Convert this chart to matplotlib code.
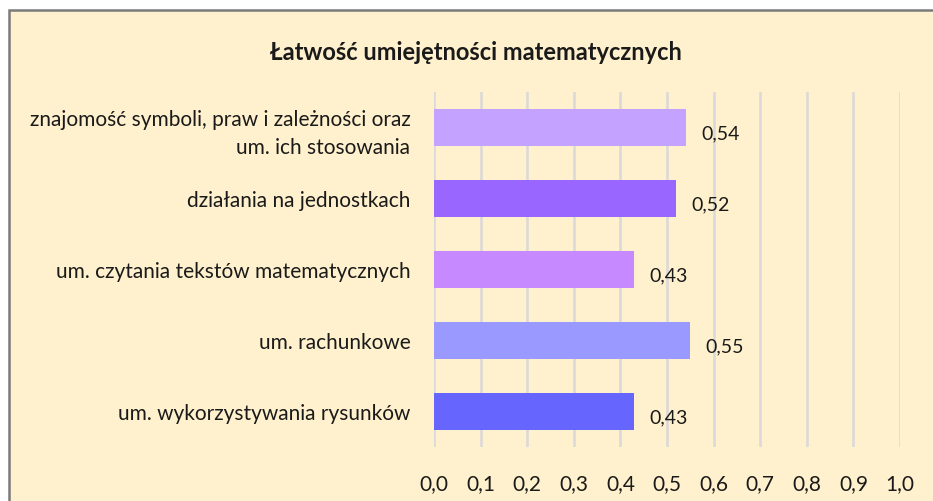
import matplotlib
matplotlib.use("Agg")
import matplotlib.pyplot as plt
from matplotlib.patches import Rectangle

categories = [
    "znajomość symboli, praw i zależności oraz\num. ich stosowania",
    "działania na jednostkach",
    "um. czytania tekstów matematycznych",
    "um. rachunkowe",
    "um. wykorzystywania rysunków",
]
values = [0.54, 0.52, 0.43, 0.55, 0.43]
value_labels = ["0,54", "0,52", "0,43", "0,55", "0,43"]
colors = ["#C3A3FF", "#9966FF", "#C689FF", "#9999FF", "#6666FF"]
xticks = [0.0, 0.1, 0.2, 0.3, 0.4, 0.5, 0.6, 0.7, 0.8, 0.9, 1.0]
xtick_labels = ["0,0", "0,1", "0,2", "0,3", "0,4", "0,5", "0,6", "0,7", "0,8", "0,9", "1,0"]
title = "Łatwość umiejętności matematycznych"

plt.rcParams['font.family'] = ['Lato', 'DejaVu Sans']

W, H = 933, 502
fig = plt.figure(figsize=(W / 100, H / 100), dpi=100)
fig.patch.set_facecolor("white")
bg = "#FFF1CD"
fig.patches.append(Rectangle((9 / W, -0.1), 1.2, (H - 11) / H + 0.1, transform=fig.transFigure,
                             facecolor=bg, edgecolor="#7A7A7A", linewidth=1.8, zorder=-5))

ax = fig.add_axes([434 / W, (H - 448) / H, (900 - 434) / W, (448 - 93) / H])
ax.set_zorder(2)
ax.set_facecolor("none")
y = list(range(len(categories)))
ax.barh(y, values, height=0.53, color=colors, zorder=3)
ax.set_ylim(len(categories) - 0.5, -0.5)
ax.set_xlim(0, 1.0)
ax.set_xticks(xticks)
ax.set_xticklabels(xtick_labels, fontsize=15, color="#1a1a1a")
ax.set_yticks(y)
ax.set_yticklabels(categories, fontsize=15, color="#1a1a1a", linespacing=1.5)
ax.tick_params(axis="both", length=0)
ax.tick_params(axis="y", pad=17)
ax.tick_params(axis="x", pad=19)
ax.grid(axis="x", color="#D9D9D9", linewidth=1.8, zorder=0)
for s in ax.spines.values():
    s.set_visible(False)
for yi, v, lab in zip(y, values, value_labels):
    ax.annotate(lab, (v, yi), xytext=(11, -4), textcoords="offset points", va="center",
                ha="left", fontsize=14, color="#1a1a1a")

fig.text(476 / W, 1 - 53 / H, title, ha="center", va="center", fontsize=17, fontweight="bold",
         color="#1a1a1a")

fig.savefig("out.png", dpi=100)
